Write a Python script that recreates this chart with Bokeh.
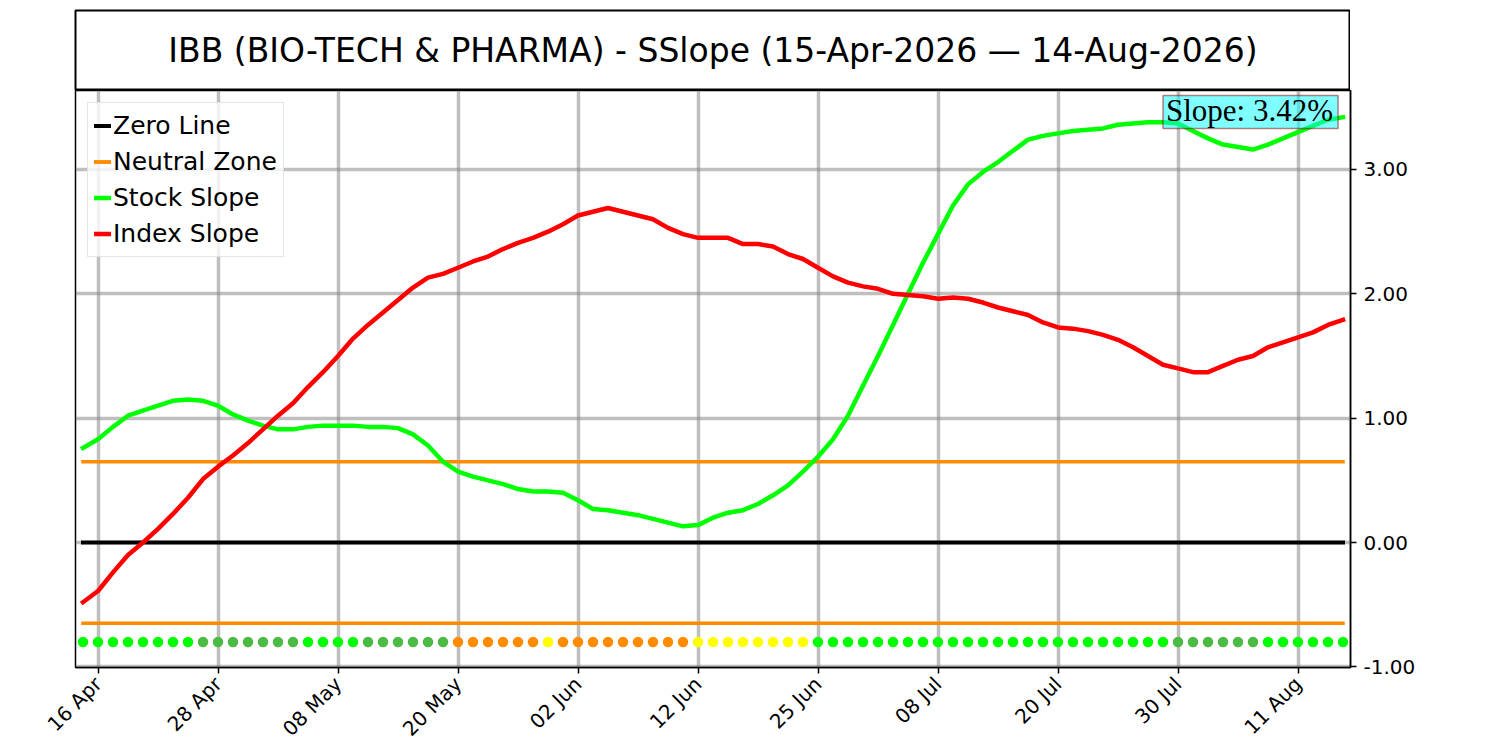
import math
import pandas as pd
from bokeh.plotting import figure
from bokeh.models import Range1d, FixedTicker, Legend, LegendItem, Label, BoxAnnotation
from bokeh.layouts import column
from bokeh.embed import file_html
from bokeh.resources import INLINE

# ---------------- data ----------------
start_date = "2026-04-15"
end_date = "2026-08-14"
market_holidays = ["2026-05-25", "2026-06-19", "2026-07-03"]
tick_first = 1
tick_step = 8
y_ticks = [-1, 0, 1, 2, 3]

stock_slope = [
    0.76, 0.83, 0.93, 1.02, 1.06, 1.10, 1.14, 1.15, 1.14, 1.10,
    1.03, 0.98, 0.94, 0.91, 0.91, 0.93, 0.94, 0.94, 0.94, 0.93,
    0.93, 0.92, 0.87, 0.78, 0.65, 0.57, 0.53, 0.50, 0.47, 0.43,
    0.41, 0.41, 0.40, 0.34, 0.27, 0.26, 0.24, 0.22, 0.19, 0.16,
    0.13, 0.14, 0.20, 0.24, 0.26, 0.31, 0.38, 0.46, 0.57, 0.69,
    0.83, 1.02, 1.26, 1.50, 1.75, 2.00, 2.25, 2.48, 2.71, 2.88,
    2.98, 3.06, 3.15, 3.24, 3.27, 3.29, 3.31, 3.32, 3.33, 3.36,
    3.37, 3.38, 3.38, 3.37, 3.31, 3.25, 3.20, 3.18, 3.16, 3.20,
    3.25, 3.30, 3.35, 3.40, 3.42,
]
index_slope = [
    -0.48, -0.39, -0.24, -0.10, 0.00, 0.11, 0.23, 0.36, 0.51, 0.61,
    0.70, 0.80, 0.91, 1.02, 1.12, 1.25, 1.37, 1.50, 1.64, 1.75,
    1.85, 1.95, 2.05, 2.13, 2.16, 2.21, 2.26, 2.30, 2.36, 2.41,
    2.45, 2.50, 2.56, 2.63, 2.66, 2.69, 2.66, 2.63, 2.60, 2.53,
    2.48, 2.45, 2.45, 2.45, 2.40, 2.40, 2.38, 2.32, 2.28, 2.21,
    2.14, 2.09, 2.06, 2.04, 2.00, 1.99, 1.98, 1.96, 1.97, 1.96,
    1.93, 1.89, 1.86, 1.83, 1.77, 1.73, 1.72, 1.70, 1.67, 1.63,
    1.57, 1.50, 1.43, 1.40, 1.37, 1.37, 1.42, 1.47, 1.50, 1.57,
    1.61, 1.65, 1.69, 1.75, 1.79,
]
zero_level = 0.0
neutral_band = 0.65
signal_level = -0.80
signal_codes = list(
    "GGGGGGGG" "ggggggg" "GGGG" "gggggg" "OOOOOO" "Y" "OOOOOOOOO"
    "YYYYYYYY" "GGGGGGGGGGGGGGGGGGGGGGGG" "gggggg" "GGGGGG"
)
signal_palette = {"G": "#00FF00", "g": "#4CBB44", "O": "#FF8C00", "Y": "#FFFF00"}

# ---------------- derived ----------------
dates = pd.bdate_range(start_date, end_date, freq="C", holidays=market_holidays)
n = len(dates)
x = list(range(n))
x_ticks = list(range(tick_first, n, tick_step))
x_labels = {i: dates[i].strftime("%d %b") for i in x_ticks}
signal_colors = [signal_palette[c] for c in signal_codes]

title_text = (f"IBB (BIO-TECH & PHARMA) - SSlope "
              f"({dates[0]:%d-%b-%Y} \u2014 {dates[-1]:%d-%b-%Y})")

FONT = "DejaVu Sans"

# ---------------- title panel ----------------
t = figure(frame_width=1275, frame_height=80, x_range=Range1d(0, 1), y_range=Range1d(0, 1),
           x_axis_location=None, y_axis_location=None,
           toolbar_location=None, output_backend="svg",
           min_border_left=75, min_border_right=0, min_border_top=10, min_border_bottom=0)
t.grid.visible = False
t.outline_line_color = "black"
t.outline_line_width = 2
t.add_layout(Label(x=0.5, y=0.5, text=title_text, text_align="center", text_baseline="middle",
                   text_font_size="33px", text_font=FONT, text_color="black"))

# ---------------- main panel ----------------
p = figure(frame_width=1275, frame_height=577,
           x_range=Range1d(-0.5, n - 0.5), y_range=Range1d(-1.005, 3.635),
           y_axis_location="right", toolbar_location=None, output_backend="svg",
           min_border_left=75, min_border_top=0, min_border_right=10, min_border_bottom=5)
p.outline_line_color = "black"
p.outline_line_width = 1.5
p.outline_line_alpha = 1.0

xt = FixedTicker(ticks=x_ticks)
yt = FixedTicker(ticks=y_ticks)
p.xaxis.ticker = xt
p.yaxis.ticker = yt
p.xgrid.ticker = xt
p.ygrid.ticker = yt
p.xaxis.major_label_overrides = x_labels
p.yaxis.major_label_overrides = {v: f"{v:.2f}" for v in y_ticks}
p.xaxis.major_label_orientation = math.pi / 4

for ax in (p.xaxis, p.yaxis):
    ax.axis_line_color = "black"
    ax.axis_line_width = 1.5
    ax.major_tick_line_color = "black"
    ax.major_tick_line_width = 1.5
    ax.major_tick_out = 6
    ax.major_tick_in = 0
    ax.minor_tick_out = 0
    ax.minor_tick_in = 0
    ax.major_label_text_font = FONT
    ax.major_label_text_font_size = "20px"
    ax.major_label_text_color = "black"
    ax.major_label_standoff = 7

p.grid.grid_line_color = "gray"
p.grid.grid_line_alpha = 0.5
p.grid.grid_line_width = 3.5

r_zero = p.line(x, [zero_level] * n, line_color="black", line_width=4, line_cap="square")
r_nu = p.line(x, [neutral_band] * n, line_color="#FF8C00", line_width=3.5, line_cap="square")
r_nl = p.line(x, [-neutral_band] * n, line_color="#FF8C00", line_width=3.5, line_cap="square")
r_stock = p.line(x, stock_slope, line_color="#00FF00", line_width=4.5, line_cap="square",
                 line_join="round")
r_index = p.line(x, index_slope, line_color="#FF0000", line_width=4.5, line_cap="square",
                 line_join="round")
p.scatter(x=x, y=[signal_level] * n, size=10.5, fill_color=signal_colors, line_color=None)

legend = Legend(items=[
    LegendItem(label="Zero Line", renderers=[r_zero]),
    LegendItem(label="Neutral Zone", renderers=[r_nu, r_nl]),
    LegendItem(label="Stock Slope", renderers=[r_stock]),
    LegendItem(label="Index Slope", renderers=[r_index]),
], location="top_left")
legend.label_text_font = FONT
legend.label_text_font_size = "25px"
legend.label_text_color = "black"
legend.glyph_width = 17
legend.glyph_height = 33
legend.label_height = 33
legend.label_standoff = 2
legend.spacing = 3
legend.padding = 6
legend.margin = 12
legend.background_fill_color = "white"
legend.background_fill_alpha = 0.8
legend.border_line_color = "#cccccc"
legend.border_line_width = 1.5
p.add_layout(legend)

# slope annotation (top right)
slope_text = f"Slope: {stock_slope[-1]:.2f}%"
p.add_layout(BoxAnnotation(left=72.0, right=83.67, bottom=3.33, top=3.595,
                           fill_color="cyan", fill_alpha=0.5,
                           line_color="darkred", line_alpha=0.5, line_width=1.5))
p.add_layout(Label(x=83.33, y=3.474, text=slope_text, text_align="right",
                   text_baseline="alphabetic", text_font="Liberation Serif",
                   text_font_size="31px", text_color="black"))

layout = column(t, p)
open("out.html", "w").write(file_html(layout, INLINE))
